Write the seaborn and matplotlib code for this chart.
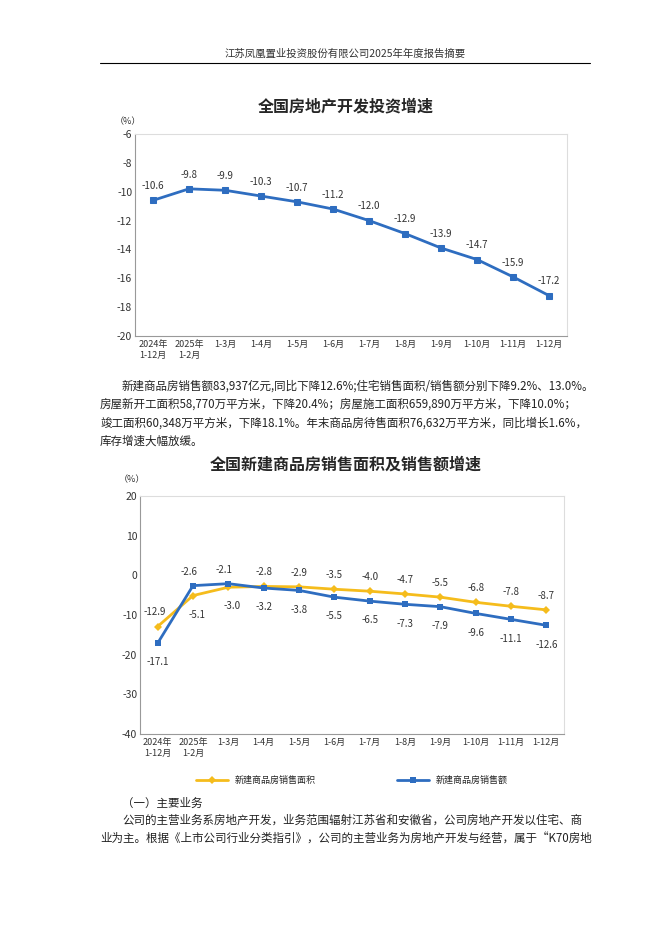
import numpy as np
import pandas as pd
import matplotlib
matplotlib.use("Agg")
import matplotlib.pyplot as plt
import seaborn as sns

sns.set_style("white")
plt.rcParams['font.family'] = ['Noto Sans CJK SC', 'DejaVu Sans']

periods = ["2024年\n1-12月", "2025年\n1-2月", "1-3月", "1-4月", "1-5月", "1-6月",
           "1-7月", "1-8月", "1-9月", "1-10月", "1-11月", "1-12月"]
invest = [-10.6, -9.8, -9.9, -10.3, -10.7, -11.2, -12.0, -12.9, -13.9, -14.7, -15.9, -17.2]
area = [-12.9, -5.1, -3.0, -2.8, -2.9, -3.5, -4.0, -4.7, -5.5, -6.8, -7.8, -8.7]
sales = [-17.1, -2.6, -2.1, -3.2, -3.8, -5.5, -6.5, -7.3, -7.9, -9.6, -11.1, -12.6]

W, H = 662, 936
BLUE = "#2E6DC0"
YEL = "#F5BC1C"

fig = plt.figure(figsize=(W / 100, H / 100), dpi=100)


def px(x, y):
    return x / W, 1 - y / H


def ax_box(l, t, r, b):
    return [l / W, 1 - b / H, (r - l) / W, (b - t) / H]


def text(x, y, s, **kw):
    fig.text(*px(x, y), s, **kw)


def style_axes(ax, ymin, ymax, step):
    ax.set_ylim(ymin, ymax)
    ax.set_xlim(-0.5, len(periods) - 0.5)
    ax.set_yticks(np.arange(ymin, ymax + 0.1, step))
    ax.set_yticklabels([f"{v:g}" for v in np.arange(ymin, ymax + 0.1, step)], fontsize=7.5, color="#333333")
    ax.set_xticks(range(len(periods)))
    ax.set_xticklabels(periods, fontsize=6.5, color="#333333", linespacing=1.3)
    ax.set_xticks(np.arange(0.5, len(periods) - 0.5), minor=True)
    ax.tick_params(axis='x', which='major', length=0, pad=3)
    ax.tick_params(axis='x', which='minor', length=3, color="#999999", direction='in')
    ax.tick_params(axis='y', length=3, color="#999999", direction='in', pad=2)
    for s in ax.spines.values():
        s.set_color("#dddddd")
    ax.spines['left'].set_color("#999999")
    ax.spines['bottom'].set_color("#999999")
    ax.set_xlabel("")
    ax.set_ylabel("")


# header
text(345, 54, "江苏凤凰置业投资股份有限公司2025年年度报告摘要", fontsize=7.5, ha='center', va='center', color="#333333")
fig.add_artist(plt.Line2D([100 / W, 590 / W], [1 - 63 / H] * 2, color="black", lw=0.8))

# chart 1
text(346, 106, "全国房地产开发投资增速", fontsize=11.5, fontweight='bold', ha='center', va='center')
text(128, 122, "（%）", fontsize=6.5, ha='center', va='center', color="#333333")
ax1 = fig.add_axes(ax_box(135, 134, 567, 336))
df1 = pd.DataFrame({"x": range(len(periods)), "v": invest})
sns.lineplot(data=df1, x="x", y="v", ax=ax1, color=BLUE, lw=2, marker='s', markersize=4,
             markeredgecolor=BLUE)
for i, v in enumerate(invest):
    ax1.annotate(f"{v:.1f}", (i, v), xytext=(0, 8), textcoords='offset points', ha='center',
                 fontsize=7, color="#333333")
style_axes(ax1, -20, -6, 2)

# paragraph
para = ["新建商品房销售额83,937亿元,同比下降12.6%;住宅销售面积/销售额分别下降9.2%、13.0%。",
        "房屋新开工面积58,770万平方米，下降20.4%；房屋施工面积659,890万平方米，下降10.0%；",
        "竣工面积60,348万平方米，下降18.1%。年末商品房待售面积76,632万平方米，同比增长1.6%，",
        "库存增速大幅放缓。"]
for k, line in enumerate(para):
    text(100 + (22 if k == 0 else 0), 386 + k * 18.5, line, fontsize=8.3, va='center', color="#222222")

# chart 2
text(346, 465, "全国新建商品房销售面积及销售额增速", fontsize=11.5, fontweight='bold', ha='center', va='center')
text(132, 480, "（%）", fontsize=6.5, ha='center', va='center', color="#333333")
ax2 = fig.add_axes(ax_box(140, 496, 564, 734))
df2 = pd.DataFrame({"x": list(range(len(periods))) * 2, "v": area + sales,
                    "s": ["新建商品房销售面积"] * len(periods) + ["新建商品房销售额"] * len(periods)})
sns.lineplot(data=df2, x="x", y="v", hue="s", style="s", ax=ax2, palette=[YEL, BLUE], lw=2,
             markers={"新建商品房销售面积": 'D', "新建商品房销售额": 's'}, dashes=False,
             markersize=4, markeredgewidth=0)
style_axes(ax2, -40, 20, 10)
for i in range(len(periods)):
    a, s = area[i], sales[i]
    if i == 0:
        ax2.annotate(f"{a:.1f}", (i, a), xytext=(-2, 8), textcoords='offset points', ha='center', fontsize=7, color="#333333")
        ax2.annotate(f"{s:.1f}", (i, s), xytext=(0, -16), textcoords='offset points', ha='center', fontsize=7, color="#333333")
    elif i in (1, 2):
        ax2.annotate(f"{s:.1f}", (i, s), xytext=(-3, 8), textcoords='offset points', ha='center', fontsize=7, color="#333333")
        ax2.annotate(f"{a:.1f}", (i, a), xytext=(3, -16), textcoords='offset points', ha='center', fontsize=7, color="#333333")
    else:
        ax2.annotate(f"{a:.1f}", (i, a), xytext=(0, 8), textcoords='offset points', ha='center', fontsize=7, color="#333333")
        ax2.annotate(f"{s:.1f}", (i, s), xytext=(0, -16), textcoords='offset points', ha='center', fontsize=7, color="#333333")
ax2.legend(loc='upper center', bbox_to_anchor=(0.5, -0.14), ncol=2, frameon=False, fontsize=6.5,
           columnspacing=9, handlelength=3.5, title=None)

# section text
text(122, 803, "（一）主要业务", fontsize=8.3, va='center', color="#222222")
body = ["公司的主营业务系房地产开发，业务范围辐射江苏省和安徽省，公司房地产开发以住宅、商",
        "业为主。根据《上市公司行业分类指引》，公司的主营业务为房地产开发与经营，属于“K70房地"]
text(122, 820, body[0], fontsize=8.3, va='center', color="#222222")
text(100, 839, body[1], fontsize=8.3, va='center', color="#222222")

fig.savefig("out.png", dpi=100)
